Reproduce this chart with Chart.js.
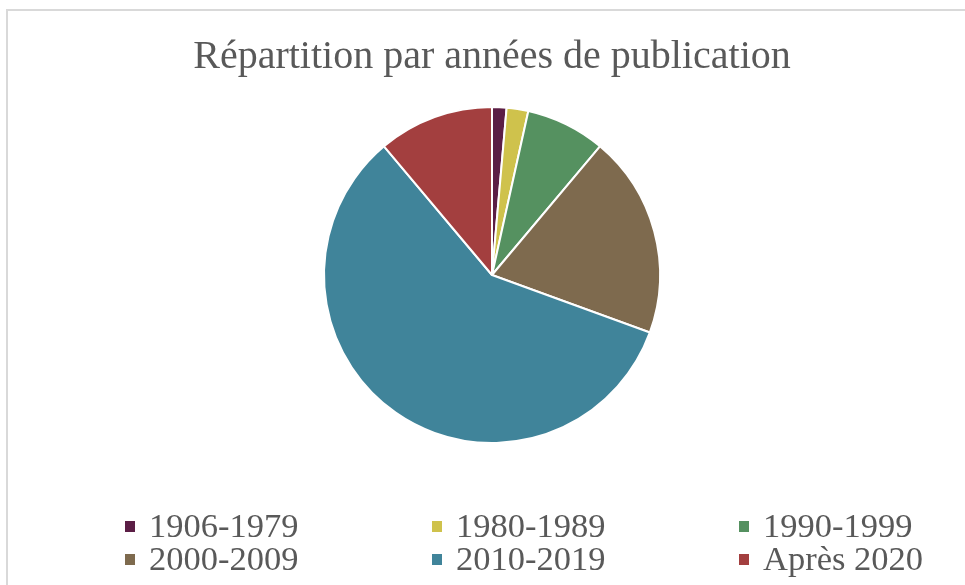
<!DOCTYPE html>
<html>
<head>
<meta charset="utf-8">
<script src="https://cdn.jsdelivr.net/npm/chart.js@4.4.0/dist/chart.umd.min.js"></script>
<style>
  body { margin: 0; background: #fff; }
  #wrap { position: relative; width: 965px; height: 585px; overflow: hidden; }
  #frame { position: absolute; left: 6px; top: 9px; width: 1000px; height: 1000px; border: 2px solid #d9d9d9; }
  #legend { position: absolute; left: 125px; top: 509px; display: grid; grid-template-columns: 307px 307px 307px; row-gap: 0px; }
  .item { display: flex; align-items: center; font-family: "Liberation Serif", serif; font-size: 34.5px; color: #595959; height: 33px; }
  .box { width: 10px; height: 11px; margin-right: 14px; margin-top: 2px; }
</style>
</head>
<body>
<div id="wrap">
  <div id="frame"></div>
  <canvas id="pieChart" width="965" height="585"></canvas>
  <div id="legend"></div>
</div>
<script>
const labels = ['1906-1979', '1980-1989', '1990-1999', '2000-2009', '2010-2019', 'Après 2020'];
const counts = [2, 3, 11, 28, 84, 16];
const colors = ['#5b1e45', '#cfc24c', '#559160', '#7e6a4e', '#40849a', '#a33f3f'];

const ctx = document.getElementById('pieChart');

new Chart(ctx, {
    type: 'pie',
    data: {
        labels: labels,
        datasets: [{
            data: counts,
            backgroundColor: colors,
            borderColor: '#ffffff',
            borderWidth: 2
        }]
    },
    options: {
        responsive: false,
        animation: false,
        layout: {
            padding: { left: 19, top: 0, bottom: 141 }
        },
        plugins: {
            legend: { display: false },
            tooltip: { enabled: false },
            title: {
                display: true,
                text: 'Répartition par années de publication',
                color: '#595959',
                font: { family: 'Liberation Serif', size: 40, weight: 'normal' },
                padding: { top: 33, bottom: 25 }
            }
        }
    }
});

// html legend, 3 columns like the original
const legendEl = document.getElementById('legend');
labels.forEach((lab, i) => {
    const item = document.createElement('div');
    item.className = 'item';
    const box = document.createElement('span');
    box.className = 'box';
    box.style.background = colors[i];
    const txt = document.createElement('span');
    txt.textContent = lab;
    item.appendChild(box);
    item.appendChild(txt);
    legendEl.appendChild(item);
});
</script>
</body>
</html>
